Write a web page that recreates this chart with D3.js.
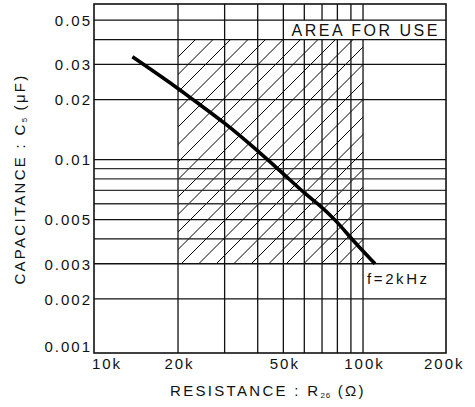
<!DOCTYPE html>
<html>
<head>
<meta charset="utf-8">
<script src="https://cdn.jsdelivr.net/npm/d3@7"></script>
<style>
  body { margin: 0; background: #fff; }
  svg { display: block; font-family: "Liberation Sans", Arial, Helvetica, sans-serif; }
</style>
</head>
<body>
<svg width="475" height="407"></svg>
<script>
// curve f = 2kHz, resistance in kOhm, capacitance in uF
const resistanceK = [13.45, 20.1, 22.5, 30.6, 38.5, 50.0, 61.3, 68.8, 79.6, 91.9, 111];
const capacitance = [0.0328, 0.0227, 0.0202, 0.0150, 0.01156, 0.0085, 0.0066, 0.0059, 0.0049, 0.0039, 0.0030];

const xGridK = [20, 30, 40, 50, 60, 70, 80, 90, 100];
const yGrid = [0.05, 0.04, 0.03, 0.02, 0.01, 0.009, 0.008, 0.007, 0.006, 0.005, 0.004, 0.003, 0.002];
const xTickK = [10, 20, 50, 100, 200];
const xTickLabels = ["10k", "20k", "50k", "100k", "200k"];
const yTicks = [0.05, 0.03, 0.02, 0.01, 0.005, 0.003, 0.002, 0.001];
const yTickLabels = ["0.05", "0.03", "0.02", "0.01", "0.005", "0.003", "0.002", "0.001"];

// area for use
const areaK = [20, 100];
const areaC = [0.003, 0.04];
const boxK = 50;
const boxC = [0.04, 0.05];

const svg = d3.select("svg"),
      margin = {top: 4, right: 29, bottom: 54, left: 94},
      width = +svg.attr("width") - margin.left - margin.right,
      height = +svg.attr("height") - margin.top - margin.bottom;

const g = svg.append("g").attr("transform", `translate(${margin.left},${margin.top})`);

const x = d3.scaleLog().domain([9.63, 205.8]).range([0, width]);
const y = d3.scaleLog().domain([0.00107, 0.0603]).range([height, 0]);

// hatching
const hx0 = x(areaK[0]), hx1 = x(areaK[1]), hy0 = y(areaC[1]), hy1 = y(areaC[0]);
svg.append("defs").append("clipPath").attr("id", "hatchClip")
  .append("rect")
  .attr("x", hx0).attr("y", hy0)
  .attr("width", hx1 - hx0).attr("height", hy1 - hy0);

const H = hy1 - hy0;
g.append("g")
  .attr("clip-path", "url(#hatchClip)")
  .selectAll("line")
  .data(d3.range(hx0 - H, hx1 + 18, 17.5))
  .join("line")
  .attr("x1", d => d).attr("y1", hy1)
  .attr("x2", d => d + H).attr("y2", hy0)
  .attr("stroke", "#000")
  .attr("stroke-width", 1);

// vertical grid
g.append("g")
  .selectAll("line")
  .data(xGridK)
  .join("line")
  .attr("x1", d => x(d)).attr("x2", d => x(d))
  .attr("y1", 0).attr("y2", height)
  .attr("stroke", "#111")
  .attr("stroke-width", 1.3);

// label box clears grid lines
g.append("rect")
  .attr("x", x(boxK) + 1)
  .attr("y", y(boxC[1]))
  .attr("width", width - x(boxK) - 1)
  .attr("height", y(boxC[0]) - y(boxC[1]))
  .attr("fill", "#fff");

// horizontal grid
g.append("g")
  .selectAll("line")
  .data(yGrid)
  .join("line")
  .attr("x1", 0).attr("x2", width)
  .attr("y1", d => y(d)).attr("y2", d => y(d))
  .attr("stroke", d => [0.009, 0.008, 0.007, 0.006].includes(d) ? "#333" : "#111")
  .attr("stroke-width", 1.3);

g.append("text")
  .attr("x", (x(boxK) + width) / 2 + 1)
  .attr("y", (y(boxC[0]) + y(boxC[1])) / 2)
  .attr("dy", "0.36em")
  .attr("text-anchor", "middle")
  .style("font-size", "16px")
  .style("letter-spacing", "2.5px")
  .attr("fill", "#111")
  .text("AREA FOR USE");

// frame
g.append("rect")
  .attr("width", width).attr("height", height)
  .attr("fill", "none")
  .attr("stroke", "#111")
  .attr("stroke-width", 1.6);

// curve
const pts = resistanceK.map((r, i) => [r, capacitance[i]]);
g.append("path")
  .datum(pts)
  .attr("fill", "none")
  .attr("stroke", "#000")
  .attr("stroke-width", 3.6)
  .attr("d", d3.line().x(d => x(d[0])).y(d => y(d[1])).curve(d3.curveBasis));

const last = pts[pts.length - 1];
g.append("text")
  .attr("x", x(last[0]) - 8)
  .attr("y", y(last[1]) + 15)
  .attr("dy", "0.35em")
  .style("font-size", "15px")
  .style("letter-spacing", "2.6px")
  .attr("fill", "#111")
  .text("f=2kHz");

// axes
g.append("g")
  .call(d3.axisLeft(y).tickValues(yTicks).tickSize(0).tickPadding(2).tickFormat((d, i) => yTickLabels[i]))
  .call(a => a.select(".domain").remove())
  .call(a => a.selectAll("text")
    .attr("dy", "0.36em")
    .attr("fill", "#111")
    .style("font-size", "15px")
    .style("letter-spacing", "2px")
    .style("font-family", "inherit"))
  .call(a => a.selectAll(".tick").filter(d => y(d) > height - 6)
    .attr("transform", `translate(0,${height - 6})`));

g.append("g")
  .attr("transform", `translate(0,${height})`)
  .call(d3.axisBottom(x).tickValues(xTickK).tickSize(0).tickFormat((d, i) => xTickLabels[i]))
  .call(a => a.select(".domain").remove())
  .call(a => a.selectAll("text")
    .attr("y", 10.5)
    .attr("dy", "0.35em")
    .attr("x", 1)
    .attr("fill", "#111")
    .style("font-size", "15px")
    .style("letter-spacing", "2px")
    .style("font-family", "inherit"))
  .call(a => a.selectAll(".tick").filter(d => x(d) < 12)
    .attr("transform", "translate(12,0)"));

// axis titles
const xt = svg.append("text")
  .attr("x", 268)
  .attr("y", 391)
  .attr("dy", "0.35em")
  .attr("text-anchor", "middle")
  .attr("fill", "#111")
  .style("font-size", "15px")
  .style("letter-spacing", "2.3px");
xt.append("tspan").text("RESISTANCE : R");
xt.append("tspan").attr("dy", 2).style("font-size", "8px").style("letter-spacing", "1px").text("26");
xt.append("tspan").attr("dy", -2).text("  (Ω)");

const yt = svg.append("text")
  .attr("transform", "translate(20,179) rotate(-90)")
  .attr("dy", "0.35em")
  .attr("text-anchor", "middle")
  .attr("fill", "#111")
  .style("font-size", "15px")
  .style("letter-spacing", "2.3px");
yt.append("tspan").text("CAPACITANCE : C");
yt.append("tspan").attr("dy", 2).style("font-size", "8px").style("letter-spacing", "1px").text("5");
yt.append("tspan").attr("dy", -2).text("  (μF)");
</script>
</body>
</html>
